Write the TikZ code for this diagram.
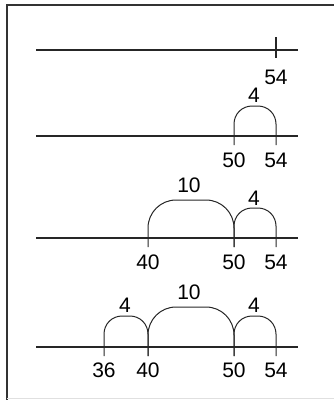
\documentclass[tikz,border=0pt]{standalone}
\usepackage{fontspec}
\setmainfont{Liberation Sans}
\usetikzlibrary{positioning}

\begin{document}
\begin{tikzpicture}[
  x=1pt, y=-1pt,
  font=\fontsize{21}{25}\selectfont,
  lbl/.style={inner sep=0pt},
  ln/.style={line width=1.1pt, draw=black!85},
  hop/.style={line width=1pt, draw=black!85, rounded corners=#1},
  hop/.default=18]

\useasboundingbox (0,0) rectangle (334,400);

% ===== frame =====
\draw[line width=1.3pt, draw=black!80] (7,400) -- (7,5) -- (334,5);
\draw[draw=black!12] (7,398) -- (334,398);

% ===== row 1 (y=50) =====
\coordinate (r1a) at (36,50);
\coordinate (r1b) at (298,50);
\coordinate (r1u54) at (276,37);
\coordinate (r1d54) at (276,58);
\node[lbl] (r1l54) at (276,77) {54};

% ===== row 2 (y=136) =====
\coordinate (r2a) at (36,136);
\coordinate (r2b) at (298,136);
\coordinate (r2d50) at (234,145);
\coordinate (r2d54) at (276,145);
\node[lbl] (r2l50) at (234,160) {50};
\node[lbl] (r2l54) at (276,160) {54};
\node[lbl] (r2h4)  at (254,95)  {4};

% ===== row 3 (y=238) =====
\coordinate (r3a) at (36,238);
\coordinate (r3b) at (298,238);
\coordinate (r3d40) at (148,247);
\coordinate (r3d50) at (234,247);
\coordinate (r3d54) at (276,247);
\node[lbl] (r3l40) at (148,262) {40};
\node[lbl] (r3l50) at (234,262) {50};
\node[lbl] (r3l54) at (276,262) {54};
\node[lbl] (r3h10) at (189,185) {10};
\node[lbl] (r3h4)  at (254,198) {4};

% ===== row 4 (y=347) =====
\coordinate (r4a) at (36,347);
\coordinate (r4b) at (298,347);
\coordinate (r4d36) at (104,356);
\coordinate (r4d40) at (148,356);
\coordinate (r4d50) at (234,356);
\coordinate (r4d54) at (276,356);
\node[lbl] (r4l36) at (104,370) {36};
\node[lbl] (r4l40) at (148,370) {40};
\node[lbl] (r4l50) at (234,370) {50};
\node[lbl] (r4l54) at (276,370) {54};
\node[lbl] (r4h4a) at (125,305) {4};
\node[lbl] (r4h10) at (189,292) {10};
\node[lbl] (r4h4b) at (254,305) {4};

% ===== lines and ticks =====
\draw[ln] (r1a) -- (r1b);
\draw[ln] (r1u54) -- (r1d54);
\draw[ln] (r2a) -- (r2b);
\draw[ln] (r3a) -- (r3b);
\draw[ln] (r4a) -- (r4b);

% ===== hops =====
\draw[hop] (r2d50) -- ++(0,-39) -| (r2d54);
\draw[hop=28] (r3d40) -- ++(0,-47) -| (r3d50);
\draw[hop] (r3d50) -- ++(0,-39) -| (r3d54);
\draw[hop] (r4d36) -- ++(0,-40) -| (r4d40);
\draw[hop=28] (r4d40) -- ++(0,-49) -| (r4d50);
\draw[hop] (r4d50) -- ++(0,-40) -| (r4d54);

\end{tikzpicture}
\end{document}
